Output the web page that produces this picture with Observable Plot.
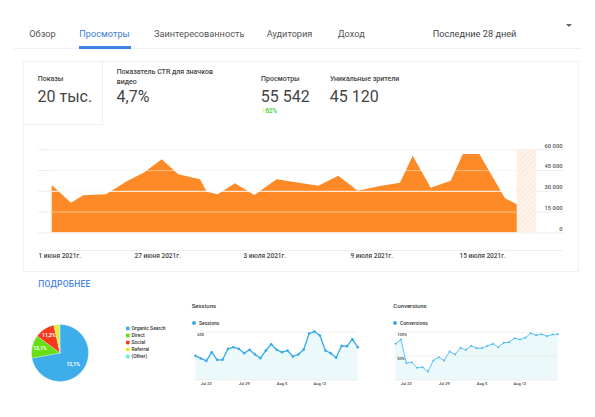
<!DOCTYPE html>
<html><head><meta charset="utf-8">
<script src="https://cdn.jsdelivr.net/npm/d3@7"></script>
<script src="https://cdn.jsdelivr.net/npm/@observablehq/plot@0.6"></script>
<style>
body{margin:0;background:#fff;font-family:Roboto,"Noto Sans",sans-serif;}
#page{position:relative;width:595px;height:417px;overflow:hidden;background:#fff;}
.a{position:absolute;white-space:nowrap;line-height:1;}
.p{position:absolute;}
.p svg{overflow:visible;display:block;}
</style></head><body><div id="page"></div>
<script>
// ---------- DATA ----------
const tabs = ["Обзор","Просмотры","Заинтересованность","Аудитория","Доход"];
const periodLabel = "Последние 28 дней";
const kpiLabels = ["Показы","Показатель CTR для значков\nвидео","Просмотры","Уникальные зрители"];
const kpiValues = ["20 тыс.","4,7%","55 542","45 120"];
const viewsChange = "↑62%";

// main area chart: position along the 28-day period (days) and views
const viewsDay   = [0,1.12,1.83,3.15,4.31,5.38,6.39,7.35,8.61,9.0,9.63,10.64,11.76,13.06,15.48,16.64,17.77,19.06,20.22,20.96,22.01,23.17,23.87,24.83,26.32,27];
const viewsValue = [34200,21400,26750,27470,36580,43380,52780,41930,38320,29350,27470,35430,26970,38320,33690,40920,30080,33470,35860,55380,32250,37310,56610,56610,24580,20240];
const incompleteStart = [27];
const incompleteEnd = [28.12];
const yTicks = [0,15000,30000,45000,60000];
const xTickDay = [-0.8,4.78,11.11,17.32,23.65];
const xTickLabel = ["1 июня 2021г.","27 июня 2021г.","3 июля 2021г.","9 июля 2021г.","15 июля 2021г."];

// pie
const sources = ["Organic Search","Direct","Social","Referral","(Other)"];
const shares  = [72.1,13.1,11.3,3.2,0.3];
const sourceColors = ["#3daeea","#66df16","#f63a1f","#e2ee2c","#62f0da"];

// mini charts (daily, Jul 20 – Aug 19)
const miniStart = "2021-07-20", miniEnd = "2021-08-20";
const sessionsValues = [302,269,239,348,252,252,390,411,390,336,378,319,273,369,449,378,348,369,294,319,382,583,608,558,369,336,277,428,424,512,411];
const conversionsValues = [75.5,84.6,35.0,37.1,25.2,26.6,17.5,40.6,47.6,40.6,59.4,53.1,67.1,62.9,71.3,66.4,66.4,71.3,75.5,68.5,77.6,79.0,87.4,84.6,88.1,97.9,93.7,95.8,91.6,95.1,95.8];
const miniTicks = ["2021-07-22","2021-07-29","2021-08-05","2021-08-12"];

// ---------- LAYOUT ----------
const page = document.getElementById("page");
function T(s, x, cy, size, color, weight=400, extra=""){
  const d = document.createElement("div");
  d.className = "a";
  d.textContent = s;
  d.style.cssText += `left:${x}px;top:${cy-0.53*size}px;font-size:${size}px;color:${color};font-weight:${weight};${extra}`;
  page.appendChild(d); return d;
}
function box(css){ const d=document.createElement("div"); d.className="p"; d.style.cssText+=css; page.appendChild(d); return d; }
function place(el, x, y){ const d=box(`left:${x}px;top:${y}px;`); d.appendChild(el); return d; }

// tabs
const tabX = [29.3,79.3,154,266.7,337.7];
tabs.forEach((t,i)=>T(t, tabX[i], 34, 9.2, i===1?"#3b7ddd":"#555"));
T(periodLabel, 432.7, 34, 9.2, "#444");
box("left:566px;top:24px;width:0;height:0;border-left:3px solid transparent;border-right:3px solid transparent;border-top:3.5px solid #666;");
box("left:14px;top:47.8px;width:568px;height:1.6px;background:#eef1f3;");
box("left:79.3px;top:46px;width:51.4px;height:2.6px;background:#3e82e6;");

// card
box("left:23px;top:61px;width:556px;height:211px;border:1px solid #f0f0f0;box-sizing:border-box;");
box("left:23px;top:61px;width:80px;height:64px;border:1px solid #f0f0f0;box-sizing:border-box;");

// KPIs
T(kpiLabels[0], 37.7, 80, 7, "#444", 500);
T(kpiValues[0], 37.5, 97.3, 16, "#444", 400);
const ctr = kpiLabels[1].split("\n");
T(ctr[0], 116.7, 72.7, 7, "#444", 500);
T(ctr[1], 116.7, 82.7, 7, "#444", 500);
T(kpiValues[1], 116.5, 97.3, 16, "#444", 400);
T(kpiLabels[2], 261, 80, 7, "#444", 500);
T(kpiValues[2], 260.8, 97.3, 16, "#444", 400);
T(viewsChange, 262, 111, 6.3, "#4ed83a", 700);
T(kpiLabels[3], 330, 80, 7, "#444", 500);
T(kpiValues[3], 329.8, 97.3, 16, "#444", 400);

const st = {fontFamily:"Roboto, 'Noto Sans', sans-serif", background:"transparent", overflow:"visible"};

// ---------- MAIN AREA CHART ----------
const views = viewsDay.map((d,i)=>({day:d, value:viewsValue[i]}));
const incomplete = incompleteStart.map((d,i)=>({start:d, end:incompleteEnd[i]}));
const xTicks = xTickDay.map((d,i)=>({day:d, label:xTickLabel[i]}));
const fmtK = d => d3.format(",")(d).replace(/,/g," ");
const main = Plot.plot({
  width:595, height:140,
  marginLeft:51.7, marginRight:78.3, marginTop:19.3, marginBottom:37.7,
  x:{domain:[0,27], axis:null},
  y:{domain:[0,60000], axis:null},
  style:st,
  marks:[
    Plot.ruleY([0], {dy:17.7, stroke:"#efefef", insetLeft:-13.7, insetRight:-46.3}),
    Plot.ruleY(yTicks, {stroke:"#eeeeee", insetLeft:-13.7, insetRight:-46.3}),
    Plot.rect(incomplete, {x1:"start", x2:"end", y1:0, y2:60000, fill:"url(#hatch)"}),
    Plot.areaY(views, {x:"day", y:"value", fill:"#fd8a26"}),
    Plot.ruleY(yTicks.filter(d=>d!==30000), {stroke:"white", strokeOpacity:0.45}),
    Plot.ruleY([30000], {stroke:"white", strokeWidth:1}),
    Plot.text(yTicks, {y:d=>d, text:fmtK, frameAnchor:"right", textAnchor:"end", dx:45.3, dy:-4, fontSize:5.8, fill:"#555", fontWeight:500}),
    Plot.text(xTicks, {x:"day", text:"label", frameAnchor:"bottom", textAnchor:"start", dy:24.7, fontSize:6.5, fill:"#444", fontWeight:500})
  ]
});
{
  const defs = d3.select(main).insert("defs", ":first-child");
  const p = defs.append("pattern").attr("id","hatch").attr("patternUnits","userSpaceOnUse")
    .attr("width",3.5).attr("height",3.5).attr("patternTransform","rotate(45)");
  p.append("rect").attr("width",3.5).attr("height",3.5).attr("fill","#fdf3ea");
  p.append("line").attr("x1",0).attr("y1",0).attr("x2",0).attr("y2",3.5).attr("stroke","#f9e3d1").attr("stroke-width",1.3);
}
place(main, 0, 130);

// ---------- ПОДРОБНЕЕ ----------
T("ПОДРОБНЕЕ", 38.3, 285, 8.5, "#4a86e8", 500, "letter-spacing:0.2px;");

// ---------- PIE ----------
const pieData = sources.map((s,i)=>({source:s, share:shares[i]}));
const arcs = d3.pie().sort(null).value(d=>d.share)(pieData);
const slicePts = [];
arcs.forEach(a=>{
  const n = Math.max(2, Math.ceil((a.endAngle-a.startAngle)/0.03));
  slicePts.push({source:a.data.source, x:0, y:0});
  for(let k=0;k<=n;k++){
    const t = a.startAngle + (a.endAngle-a.startAngle)*k/n;
    slicePts.push({source:a.data.source, x:Math.sin(t), y:Math.cos(t)});
  }
});
const colorScale = {domain:sources, range:sourceColors};
const pie = Plot.plot({
  width:160, height:80, margin:0,
  x:{domain:[-1,1], range:[11,68], axis:null},
  y:{domain:[-1,1], range:[71,14], axis:null},
  color:colorScale,
  style:st,
  marks:[
    Plot.line(slicePts, {x:"x", y:"y", z:"source", fill:"source", stroke:"white", strokeWidth:0.35}),
    Plot.text(arcs.filter(a=>a.data.share>5), {
      x:a=>(a.data.share>50?0.6:0.72)*Math.sin((a.startAngle+a.endAngle)/2),
      y:a=>(a.data.share>50?0.6:0.72)*Math.cos((a.startAngle+a.endAngle)/2),
      text:a=>d3.format(".1f")(a.data.share).replace(".",",")+"%",
      fill:"white", fontSize:5, fontWeight:700})
  ]
});
place(pie, 20, 310);

const legend = Plot.plot({
  width:60, height:40, margin:0,
  y:{type:"point", domain:sources, range:[5.3,34.1], padding:0, axis:null},
  color:colorScale,
  style:st,
  marks:[
    Plot.dot(sources, {y:d=>d, frameAnchor:"left", dx:7.3, symbol:"square", r:2, fill:d=>d}),
    Plot.text(sources, {y:d=>d, text:d=>d, frameAnchor:"left", dx:11, textAnchor:"start", fontSize:5, fill:"#333", fontWeight:500})
  ]
});
place(legend, 120, 322);

// ---------- MINI CHARTS ----------
const dates = d3.utcDay.range(new Date(miniStart), new Date(miniEnd));
const tickDates = miniTicks.map(d=>new Date(d));
function mini(values, yMax, grid, gridFmt, color, lw, r){
  const data = dates.map((d,i)=>({date:d, v:values[i]}));
  return Plot.plot({
    width:180, height:65, marginLeft:10, marginRight:7.7, marginTop:6.7, marginBottom:10.7,
    x:{type:"utc", domain:[dates[0], dates[dates.length-1]], axis:null},
    y:{domain:[0,yMax], axis:null},
    style:st,
    marks:[
      Plot.areaY(data, {x:"date", y:"v", fill:"#ebf9fb"}),
      Plot.ruleY(grid, {stroke:"#e6e6e6", strokeWidth:0.6}),
      Plot.ruleY([0], {stroke:"#dcdcdc", strokeWidth:0.6}),
      Plot.text(grid, {y:d=>d, text:gridFmt, frameAnchor:"left", textAnchor:"start", dx:1.7, dy:3, fontSize:4, fill:"#444", fontWeight:500}),
      Plot.line(data, {x:"date", y:"v", stroke:color, strokeWidth:lw}),
      Plot.dot(data, {x:"date", y:"v", fill:color, r}),
      Plot.text(tickDates, {x:d=>d, text:d3.utcFormat("%b %-d"), frameAnchor:"bottom", dy:4.7, fontSize:4, fill:"#444", fontWeight:500})
    ]
  });
}
T("Sessions", 191.7, 305.7, 6, "#333", 500);
box("left:192.3px;top:321.3px;width:4px;height:4px;border-radius:50%;background:#3aa9ea;");
T("Sessions", 199, 323.3, 5, "#333", 500);
place(mini(sessionsValues, 600, [600], d=>String(d), "#3aa9ea", 1.3, 1.3), 185, 325);

T("Conversions", 393.3, 305.7, 6, "#333", 500);
box("left:393px;top:321.3px;width:4px;height:4px;border-radius:50%;background:#3aa9ea;");
T("Conversions", 400, 323.3, 5, "#333", 500);
place(mini(conversionsValues, 100, [50,100], d=>d+"%", "#52bbf0", 0.9, 1.0), 385, 325);
</script></body></html>
